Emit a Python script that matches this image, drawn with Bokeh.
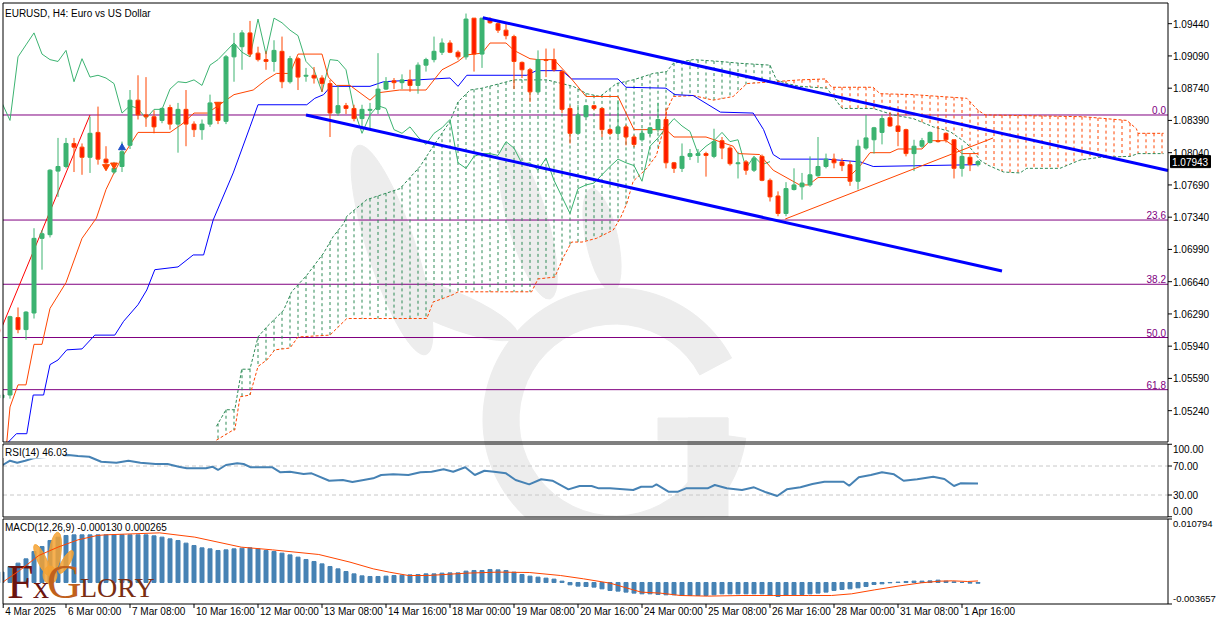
import numpy as np
from bokeh.plotting import figure
from bokeh.models import Range1d
from bokeh.embed import file_html
from bokeh.resources import INLINE
from bokeh.core.properties import value

# ---------------- data (EURUSD H4, bar index 0 = 4 Mar 16:00) ----------------
opens = [1.0538, 1.0541, 1.0625, 1.0612, 1.0630, 1.0711, 1.0715, 1.0784, 1.0789, 1.0814,
         1.0810, 1.0799, 1.0826, 1.0797, 1.0783, 1.0789, 1.0812, 1.0861, 1.0845, 1.0843,
         1.0839, 1.0853, 1.0835, 1.0851, 1.0835, 1.0829, 1.0835, 1.0856, 1.0838, 1.0908,
         1.0919, 1.0934, 1.0912, 1.0905, 1.0903, 1.0914, 1.0881, 1.0906, 1.0887, 1.0888,
         1.0885, 1.0879, 1.0847, 1.0855, 1.0852, 1.0841, 1.0850, 1.0851, 1.0873, 1.0882,
         1.0880, 1.0883, 1.0877, 1.0899, 1.0905, 1.0913, 1.0923, 1.0913, 1.0908, 1.0950,
         1.0911, 1.0949, 1.0944, 1.0937, 1.0930, 1.0902, 1.0894, 1.0870, 1.0905, 1.0905,
         1.0892, 1.0852, 1.0825, 1.0843, 1.0855, 1.0852, 1.0829, 1.0825, 1.0832, 1.0821,
         1.0818, 1.0825, 1.0829, 1.0840, 1.0793, 1.0787, 1.0800, 1.0801, 1.0803, 1.0800,
         1.0817, 1.0809, 1.0792, 1.0794, 1.0785, 1.0800, 1.0774, 1.0757, 1.0738, 1.0764,
         1.0767, 1.0769, 1.0779, 1.0789, 1.0797, 1.0794, 1.0791, 1.0773, 1.0809, 1.0818,
         1.0826, 1.0842, 1.0833, 1.0829, 1.0803, 1.0811, 1.0815, 1.0817, 1.0825, 1.0818,
         1.0787, 1.0799, 1.0791]
highs = [1.0545, 1.0627, 1.0636, 1.0632, 1.0722, 1.0720, 1.0786, 1.0820, 1.0820, 1.0820,
         1.0814, 1.0843, 1.0854, 1.0811, 1.0794, 1.0816, 1.0872, 1.0888, 1.0886, 1.0850,
         1.0853, 1.0856, 1.0858, 1.0872, 1.0838, 1.0840, 1.0867, 1.0859, 1.0910, 1.0934,
         1.0937, 1.0947, 1.0919, 1.0914, 1.0926, 1.0930, 1.0909, 1.0908, 1.0896, 1.0897,
         1.0888, 1.0883, 1.0877, 1.0858, 1.0856, 1.0856, 1.0858, 1.0912, 1.0886, 1.0885,
         1.0889, 1.0894, 1.0902, 1.0907, 1.0930, 1.0928, 1.0926, 1.0915, 1.0955, 1.0950,
         1.0950, 1.0951, 1.0947, 1.0944, 1.0932, 1.0903, 1.0896, 1.0915, 1.0917, 1.0917,
         1.0894, 1.0855, 1.0856, 1.0855, 1.0856, 1.0853, 1.0831, 1.0861, 1.0834, 1.0823,
         1.0830, 1.0832, 1.0858, 1.0852, 1.0794, 1.0814, 1.0808, 1.0808, 1.0805, 1.0830,
         1.0821, 1.0811, 1.0805, 1.0796, 1.0800, 1.0802, 1.0776, 1.0762, 1.0772, 1.0787,
         1.0782, 1.0800, 1.0821, 1.0803, 1.0803, 1.0798, 1.0795, 1.0818, 1.0845, 1.0832,
         1.0845, 1.0847, 1.0847, 1.0830, 1.0818, 1.0820, 1.0827, 1.0833, 1.0826, 1.0818,
         1.0812, 1.0803, 1.0796]
lows = [1.0535, 1.0537, 1.0608, 1.0601, 1.0624, 1.0677, 1.0712, 1.0756, 1.0787, 1.0783,
        1.0780, 1.0782, 1.0791, 1.0785, 1.0781, 1.0783, 1.0808, 1.0840, 1.0832, 1.0825,
        1.0836, 1.0829, 1.0804, 1.0811, 1.0821, 1.0818, 1.0832, 1.0835, 1.0835, 1.0881,
        1.0894, 1.0908, 1.0903, 1.0894, 1.0892, 1.0874, 1.0879, 1.0872, 1.0881, 1.0879,
        1.0870, 1.0821, 1.0844, 1.0846, 1.0838, 1.0829, 1.0829, 1.0846, 1.0872, 1.0873,
        1.0873, 1.0870, 1.0868, 1.0892, 1.0902, 1.0910, 1.0912, 1.0905, 1.0905, 1.0892,
        1.0896, 1.0944, 1.0934, 1.0927, 1.0873, 1.0885, 1.0859, 1.0869, 1.0886, 1.0892,
        1.0847, 1.0814, 1.0823, 1.0842, 1.0850, 1.0821, 1.0823, 1.0821, 1.0812, 1.0810,
        1.0816, 1.0822, 1.0826, 1.0787, 1.0782, 1.0783, 1.0796, 1.0793, 1.0778, 1.0798,
        1.0797, 1.0790, 1.0776, 1.0780, 1.0783, 1.0773, 1.0751, 1.0735, 1.0735, 1.0763,
        1.0753, 1.0767, 1.0778, 1.0787, 1.0787, 1.0784, 1.0768, 1.0764, 1.0807, 1.0803,
        1.0813, 1.0832, 1.0811, 1.0800, 1.0784, 1.0809, 1.0814, 1.0815, 1.0815, 1.0776,
        1.0778, 1.0784, 1.0789]
closes = [1.0541, 1.0626, 1.0612, 1.0631, 1.0711, 1.0716, 1.0785, 1.0789, 1.0814, 1.0810,
          1.0799, 1.0825, 1.0797, 1.0793, 1.0787, 1.0805, 1.0861, 1.0845, 1.0843, 1.0832,
          1.0852, 1.0835, 1.0851, 1.0835, 1.0829, 1.0835, 1.0858, 1.0839, 1.0908, 1.0921,
          1.0934, 1.0911, 1.0905, 1.0903, 1.0915, 1.0881, 1.0906, 1.0886, 1.0888, 1.0885,
          1.0879, 1.0847, 1.0855, 1.0852, 1.0841, 1.0851, 1.0851, 1.0873, 1.0881, 1.0880,
          1.0883, 1.0877, 1.0899, 1.0905, 1.0914, 1.0923, 1.0913, 1.0908, 1.0949, 1.0911,
          1.0950, 1.0945, 1.0937, 1.0931, 1.0903, 1.0894, 1.0870, 1.0905, 1.0904, 1.0894,
          1.0851, 1.0825, 1.0845, 1.0855, 1.0852, 1.0829, 1.0825, 1.0832, 1.0821, 1.0813,
          1.0825, 1.0831, 1.0840, 1.0793, 1.0787, 1.0800, 1.0803, 1.0803, 1.0801, 1.0816,
          1.0809, 1.0792, 1.0793, 1.0785, 1.0798, 1.0774, 1.0756, 1.0738, 1.0765, 1.0769,
          1.0771, 1.0780, 1.0789, 1.0797, 1.0793, 1.0790, 1.0773, 1.0811, 1.0820, 1.0831,
          1.0841, 1.0833, 1.0827, 1.0803, 1.0811, 1.0817, 1.0826, 1.0816, 1.0818, 1.0787,
          1.0800, 1.0791, 1.07943]

# Ichimoku lines (bar index, price)
tenkan_x = [0.6, 1, 2, 3, 4, 5, 6, 8, 10, 11.8, 13, 14, 15, 17, 21, 22.5, 24, 25.7, 28, 29,
            31.4, 33, 34.3, 36, 37, 40, 40.8, 41.8, 43.5, 46, 47, 49.7, 53, 55, 57, 58, 60, 61,
            63, 64, 66, 67, 69, 71, 73, 77, 79, 83, 84, 88, 91.4, 92, 94.7, 96.4, 99.7, 100.8,
            102, 105.8, 107.2, 108.5, 111, 112, 115, 116, 118, 119, 120, 122]
tenkan_v = [1.0490, 1.0528, 1.0552, 1.0552, 1.0596, 1.0596, 1.0635, 1.0663, 1.0711, 1.0733,
            1.0764, 1.0782, 1.0799, 1.0826, 1.0826, 1.0835, 1.0847, 1.0847, 1.0861, 1.0867,
            1.0872, 1.0883, 1.0890, 1.0890, 1.0911, 1.0911, 1.0886, 1.0877, 1.0877, 1.0861,
            1.0869, 1.0872, 1.0872, 1.0894, 1.0903, 1.0910, 1.0912, 1.0923, 1.0923, 1.0915,
            1.0906, 1.0905, 1.0905, 1.0886, 1.0865, 1.0865, 1.0829, 1.0829, 1.0821, 1.0821,
            1.0811, 1.0803, 1.0802, 1.0785, 1.0769, 1.0769, 1.0777, 1.0777, 1.0789, 1.0804,
            1.0804, 1.0808, 1.0808, 1.0817, 1.0817, 1.0811, 1.0803, 1.0803]
kijun_x = [0.8, 1.8, 3.1, 3.9, 5.2, 6, 7, 8.1, 10, 11.6, 14.1, 15.2, 17, 18.1, 19.1, 22, 23.9,
           25.2, 26.4, 28.9, 31, 32, 38.1, 39.1, 40.2, 41.1, 46, 47.7, 56, 57, 58.1, 65.6, 66.8,
           70, 71.2, 77, 78, 83, 84.1, 86.4, 89.8, 93.9, 95.2, 96.4, 97.3, 103.1, 107.3, 108.9, 122]
kijun_v = [1.0490, 1.0499, 1.0499, 1.0541, 1.0541, 1.0574, 1.0579, 1.0590, 1.0591, 1.0606,
           1.0606, 1.0621, 1.0639, 1.0655, 1.0677, 1.0680, 1.0693, 1.0693, 1.0731, 1.0782,
           1.0832, 1.0856, 1.0856, 1.0863, 1.0867, 1.0876, 1.0876, 1.0881, 1.0885, 1.0876,
           1.0888, 1.0888, 1.0893, 1.0893, 1.0884, 1.0884, 1.0875, 1.0874, 1.0867, 1.0866,
           1.0848, 1.0847, 1.0829, 1.0802, 1.0797, 1.0797, 1.0794, 1.0789, 1.0791]
spanA_x = [26.8, 28.0, 29.1, 29.96, 31.0, 32.0, 33.1, 35.2, 36.2, 38.1, 40.2, 41.4, 42.7, 43.1,
           45.6, 49.75, 52.25, 53.9, 56.0, 57.0, 58.5, 60.0, 62.25, 64.0, 68.1, 71.4, 73.1,
           74.75, 76.8, 78.9, 81.4, 83.1, 83.9, 86.4, 89.75, 92.25, 96.0, 96.8, 98.1, 99.75,
           103.1, 103.9, 105.0, 108.9, 111.4, 113.9, 116.4, 118.5, 120.6, 122.25, 123.1, 125.2,
           127.25, 128.1, 132.25, 134.75, 137.25, 141.0, 142.0, 145.2]
spanA_v = [1.0507, 1.0525, 1.0525, 1.0569, 1.0569, 1.0604, 1.0615, 1.0633, 1.0653, 1.0671,
           1.0695, 1.0713, 1.0727, 1.0735, 1.0753, 1.0765, 1.0789, 1.0811, 1.0838, 1.0859,
           1.0872, 1.0874, 1.0879, 1.0883, 1.0883, 1.0876, 1.0868, 1.0865, 1.0879, 1.0883,
           1.0890, 1.0892, 1.0901, 1.0905, 1.0903, 1.0901, 1.0899, 1.0883, 1.0879, 1.0876,
           1.0874, 1.0865, 1.0852, 1.0852, 1.0845, 1.0841, 1.0832, 1.0827, 1.0814, 1.0796,
           1.0791, 1.0783, 1.0782, 1.0787, 1.0787, 1.0796, 1.0799, 1.0800, 1.0803, 1.0803]
spanB_x = [26.8, 28.9, 29.1, 29.75, 31.0, 32.0, 33.1, 34.1, 36.0, 37.0, 41.0, 43.1, 53.1, 53.9,
           55.2, 56.4, 57.0, 66.2, 67.0, 69.1, 70.2, 71.2, 72.5, 74.3, 76.4, 77.3, 78.1, 78.9,
           80.6, 81.8, 82.7, 83.1, 83.9, 86.4, 88.9, 91.4, 92.25, 93.1, 99.75, 102.9, 103.7,
           108.9, 109.75, 113.9, 120.6, 122.0, 122.9, 135.2, 140.6, 141.8, 142.0, 145.2]
spanB_v = [1.0492, 1.0503, 1.0503, 1.0539, 1.0541, 1.0572, 1.0579, 1.0590, 1.0592, 1.0604,
           1.0606, 1.0624, 1.0624, 1.0642, 1.0646, 1.0650, 1.0653, 1.0653, 1.0667, 1.0669,
           1.0691, 1.0707, 1.0707, 1.0711, 1.0720, 1.0733, 1.0749, 1.0773, 1.0787, 1.0801,
           1.0830, 1.0850, 1.0865, 1.0866, 1.0861, 1.0865, 1.0872, 1.0879, 1.0883, 1.0884,
           1.0875, 1.0875, 1.0868, 1.0867, 1.0863, 1.0850, 1.0845, 1.0843, 1.0839, 1.0830,
           1.0825, 1.0825]
CHIKOU_SHIFT = 26

# Drawn objects
fib_levels = [1.08449, 1.07309, 1.06612, 1.06034, 1.05468]
fib_labels = ["0.0", "23.6", "38.2", "50.0", "61.8"]
fib_anchor_x = [-12.1, 11.0]
fib_anchor_p = [1.03619, 1.08449]
chan_upper_x = [60.1, 145.75]
chan_upper_p = [1.09505, 1.07847]
chan_lower_x = [38.0, 125.0]
chan_lower_p = [1.08449, 1.06756]
trend_x = [97.9, 123.9]
trend_p = [1.0732, 1.0820]
frac_dn_x = [13, 14, 27]
frac_dn_p = [1.07888, 1.07906, 1.08565]
frac_up_x = [15]
frac_up_p = [1.08094]
last_price = 1.07943

# RSI(14) readings
rsi_x = [0.1, 1.0, 1.9, 2.9, 3.9, 8.3, 9.5, 10.9, 12.4, 14.3, 15.8, 17.3, 19.2, 20.7, 22.1, 23.1,
         25.5, 26.3, 27.0, 28.0, 29.4, 30.2, 31.1, 33.8, 34.8, 36.0, 37.7, 38.7, 40.9, 42.6, 43.8,
         45.2, 46.4, 47.4, 48.9, 50.8, 52.3, 53.7, 55.2, 56.4, 57.9, 59.1, 60.3, 61.5, 63.0, 64.2,
         65.9, 67.4, 68.8, 70.8, 72.2, 73.7, 74.6, 76.0, 78.9, 79.9, 81.3, 81.8, 83.3, 84.5, 85.5,
         88.2, 89.1, 90.6, 92.5, 94.0, 95.5, 96.9, 98.1, 99.8, 101.3, 102.8, 105.2, 105.9, 107.1,
         108.6, 110.0, 111.5, 112.7, 114.4, 116.4, 117.8, 119.0, 119.8, 122.0]
rsi_v = [71.4, 77.3, 74.5, 77.3, 80.6, 85.2, 83.8, 82.8, 75.9, 74.5, 77.3, 74.5, 72.8, 72.8, 69.0,
         66.8, 66.8, 69.0, 64.5, 71.4, 73.7, 72.8, 68.2, 68.2, 61.3, 62.1, 59.0, 59.9, 49.7, 50.7,
         47.9, 50.7, 53.0, 57.6, 58.5, 57.6, 61.3, 62.1, 65.4, 62.1, 68.2, 57.6, 63.5, 62.1, 59.9,
         50.7, 44.7, 51.7, 49.7, 37.8, 42.4, 42.4, 39.2, 39.2, 36.9, 41.4, 41.4, 44.7, 34.6, 34.6,
         39.2, 39.2, 43.8, 39.2, 36.9, 40.6, 33.7, 28.6, 37.8, 40.6, 45.2, 48.3, 48.3, 42.8, 54.4,
         57.6, 61.3, 58.5, 49.7, 51.7, 55.3, 52.1, 42.4, 46.1, 46.03]
rsi_levels = [30, 70]

# MACD(12,26,9) histogram per bar and signal line readings
macd_hist = [0.00176, 0.00272, 0.00329, 0.00402, 0.00527, 0.00612, 0.00714, 0.00771, 0.00799,
             0.00810, 0.00810, 0.00810, 0.00810, 0.00810, 0.00810, 0.00810, 0.00810, 0.00810, 0.00810,
             0.00793, 0.00771, 0.00742, 0.00714, 0.00669, 0.00629, 0.00589, 0.00572, 0.00544, 0.00555,
             0.00572, 0.00584, 0.00589, 0.00572, 0.00544, 0.00527, 0.00499, 0.00470, 0.00431, 0.00391,
             0.00357, 0.00317, 0.00272, 0.00232, 0.00187, 0.00147, 0.00113, 0.00102, 0.00102, 0.00108,
             0.00119, 0.00125, 0.00130, 0.00136, 0.00147, 0.00147, 0.00159, 0.00164, 0.00164, 0.00193,
             0.00204, 0.00204, 0.00221, 0.00215, 0.00204, 0.00176, 0.00136, 0.00108, 0.00091, 0.00074,
             0.00057, 0.00023, -0.00040, -0.00062, -0.00068, -0.00079, -0.00108, -0.00136, -0.00147,
             -0.00164, -0.00181, -0.00193, -0.00193, -0.00204, -0.00210, -0.00210, -0.00221, -0.00221,
             -0.00221, -0.00221, -0.00210, -0.00193, -0.00193, -0.00193, -0.00193, -0.00193, -0.00193,
             -0.00221, -0.00238, -0.00221, -0.00210, -0.00204, -0.00193, -0.00181, -0.00164, -0.00136,
             -0.00119, -0.00108, -0.00091, -0.00068, -0.00034, -0.00023, -0.00006, 0.00006, 0.00017,
             0.00023, 0.00023, 0.00028, 0.00040, 0.00023, 0.00011, 0.00000, -0.00011, -0.00013]
signal_x = [0.1, 2.2, 4.6, 7.0, 9.5, 11.9, 12.9, 19.7, 24.1, 29.9, 33.8, 39.6, 43.5, 46.4, 48.4,
            50.8, 53.3, 58.1, 62.0, 65.9, 69.8, 72.7, 76.0, 79.9, 82.3, 84.8, 88.2, 92.5, 96.4,
            100.8, 103.7, 106.2, 109.1, 112.0, 114.9, 117.3, 118.8, 120.7, 122.0]
signal_v = [0.00006, 0.00204, 0.00459, 0.00601, 0.00725, 0.00799, 0.00810, 0.00844, 0.00771,
            0.00601, 0.00555, 0.00476, 0.00346, 0.00232, 0.00176, 0.00119, 0.00119, 0.00159,
            0.00176, 0.00170, 0.00119, 0.00062, -0.00011, -0.00164, -0.00181, -0.00221, -0.00232,
            -0.00221, -0.00221, -0.00221, -0.00221, -0.00193, -0.00125, -0.00062, -0.00006,
            0.00023, 0.00028, 0.00017, 0.000265]

# Axis labels
price_ticks = [1.05240, 1.05590, 1.05940, 1.06290, 1.06640, 1.06990, 1.07340,
               1.07690, 1.08040, 1.08390, 1.08740, 1.09090, 1.09440]
rsi_ticks = [0, 30, 70, 100]
rsi_tick_labels = ["0.00", "30.00", "70.00", "100.00"]
rsi_label_pos = [7.9, 30, 70, 93.4]
macd_ticks = [-0.003657, 0.010794]
macd_tick_labels = ["-0.003657", "0.010794"]
macd_label_pos = [-0.002807, 0.009944]
time_pos = [0.15, 8, 16, 24, 32, 40, 48, 56, 64, 72, 80, 88, 96, 104, 112, 120]
time_labels = ["4 Mar 2025", "6 Mar 00:00", "7 Mar 08:00", "10 Mar 16:00", "12 Mar 00:00",
               "13 Mar 08:00", "14 Mar 16:00", "18 Mar 00:00", "19 Mar 08:00", "20 Mar 16:00",
               "24 Mar 00:00", "25 Mar 08:00", "26 Mar 16:00", "28 Mar 00:00", "31 Mar 08:00",
               "1 Apr 16:00"]

# ---------------- layout: one full-canvas frame, panes drawn by hand ----------------
W, H = 1219, 622
OFFX, OFFY = 0.5, 0.5        # canvas px = reference px - OFF (crisp 1px lines)
PX0, PX1 = 3, 1168           # pane left / right (reference px)
MAIN = (3, 442)
RSIP = (444, 517)
MACDP = (519, 604)
YPP = 0.00010853             # price per px in the main pane
Y0P = 1.09697                # price at reference y = 0
RSI_PX = 0.725               # px per RSI point, RSI 0 at y=516.75
MACD_PX = 0.000170012        # MACD per px, 0.010794 at y=519


def rx(px):
    return (px - 2) / 8.0


def py(y):
    return Y0P - YPP * y


def rsi_y(y):
    return (516.75 - y) / RSI_PX


def macd_y(y):
    return macd_ticks[1] - (y - 519) * MACD_PX


FONT = "Liberation Sans"
GREEN, ORANGE = "#2e8b57", "#ff4500"
p = figure(width=W, height=H, x_range=Range1d(rx(OFFX), rx(W + OFFX)),
           y_range=Range1d(py(H + OFFY), py(OFFY)),
           output_backend="svg", toolbar_location=None,
           x_axis_location=None, y_axis_location=None,
           min_border=0, min_border_left=0, min_border_right=0, min_border_top=0,
           min_border_bottom=0, outline_line_color=None,
           background_fill_color="white", border_fill_color="white")
p.extra_y_ranges = {
    "rsi": Range1d(rsi_y(H + OFFY), rsi_y(OFFY)),
    "macd": Range1d(macd_y(H + OFFY), macd_y(OFFY)),
}
p.grid.visible = False

# ---------------- watermark ----------------
WM = "#ededed"
p.ellipse(x=[rx(392), rx(448), rx(528), rx(602)], y=[py(250), py(308), py(222), py(240)],
          width=[48, 150, 40, 32], height=[220, 36, 160, 105],
          angle=[np.radians(18), np.radians(-22), np.radians(16), np.radians(12)],
          width_units="screen", height_units="screen", color=WM)
p.annular_wedge(x=[rx(615)], y=[py(420)], inner_radius=96, outer_radius=132,
                inner_radius_units="screen", outer_radius_units="screen",
                start_angle=np.radians(28), end_angle=np.radians(352), color=WM)
p.quad(left=[rx(688), rx(658)], right=[rx(728), rx(728)], top=[py(418), py(418)],
       bottom=[py(517), py(440)], color=WM)
p.quad(left=[rx(0)], right=[rx(1221)], top=[py(518)], bottom=[py(630)], color="white")

# ---------------- main pane ----------------
n_f = len(fib_levels)
p.segment(x0=[rx(PX0)] * n_f, x1=[rx(PX1)] * n_f, y0=fib_levels, y1=fib_levels,
          line_color="#800080", line_width=1)

# Kumo hatch: dashed vertical strokes (3px on, 3px off) between span A and span B
hx = np.arange(27, 146)
ha = np.interp(hx, spanA_x, spanA_v)
hb = np.interp(hx, spanB_x, spanB_v)
dash = {True: ([], [], []), False: ([], [], [])}
for xi, a, b in zip(hx, ha, hb):
    top, bot = max(a, b), min(a, b)
    yy = top
    while yy > bot:
        y2 = max(yy - 3 * YPP, bot)
        dash[bool(a >= b)][0].append(xi)
        dash[bool(a >= b)][1].append(yy)
        dash[bool(a >= b)][2].append(y2)
        yy -= 6 * YPP
for key, col in ((True, GREEN), (False, ORANGE)):
    xs, y0s, y1s = dash[key]
    p.segment(x0=xs, y0=y0s, x1=xs, y1=y1s, line_color=col, line_width=1)
p.line(spanA_x, spanA_v, line_color=GREEN, line_dash="3 2", line_width=1)
p.line(spanB_x, spanB_v, line_color=ORANGE, line_dash="3 2", line_width=1)

cl = np.array(closes)
p.line(np.arange(len(cl) - CHIKOU_SHIFT), cl[CHIKOU_SHIFT:], line_color="#3cb371", line_width=1)
p.line(kijun_x, kijun_v, line_color="#0000ff", line_width=1)
p.line(tenkan_x, tenkan_v, line_color=ORANGE, line_width=1)
p.line(fib_anchor_x, fib_anchor_p, line_color="#ff0000", line_width=1)

o = np.array(opens); h = np.array(highs); l = np.array(lows); c = cl
idx = np.arange(len(o))
up = c >= o
dn = ~up
p.segment(x0=idx[up], y0=h[up], x1=idx[up], y1=l[up], line_color="#3cb371", line_width=1)
p.segment(x0=idx[dn], y0=h[dn], x1=idx[dn], y1=l[dn], line_color=ORANGE, line_width=1)
p.vbar(x=idx[up], width=0.5, top=c[up], bottom=o[up],
       fill_color="#3cb371", line_color="#3cb371", line_width=1)
p.vbar(x=idx[dn], width=0.5, top=o[dn], bottom=c[dn],
       fill_color="#ff1a00", line_color=ORANGE, line_width=1)

p.scatter(frac_dn_x, frac_dn_p, marker="inverted_triangle", size=7, color=ORANGE)
p.scatter(frac_up_x, frac_up_p, marker="triangle", size=7, color="#1e50c8")

p.line(chan_upper_x, chan_upper_p, line_color="#0000ff", line_width=3)
p.line(chan_lower_x, chan_lower_p, line_color="#0000ff", line_width=3)
p.line(trend_x, trend_p, line_color=ORANGE, line_width=1)

p.text(x=[rx(1166)] * n_f, y=fib_levels, text=fib_labels, text_align="right",
       text_baseline="bottom", text_color="#800080", text_font=value(FONT),
       text_font_size="10px", y_offset=-1)

# ---------------- RSI pane ----------------
p.segment(x0=[rx(PX0)] * 2, x1=[rx(PX1)] * 2, y0=rsi_levels, y1=rsi_levels,
          y_range_name="rsi", line_color="#c8c8c8", line_dash="4 3", line_width=1)
p.line(rsi_x, rsi_v, y_range_name="rsi", line_color="#4682b4", line_width=2)

# ---------------- MACD pane ----------------
p.vbar(x=idx, width=0.5, top=macd_hist, bottom=0, y_range_name="macd", color="#4682b4")

# FxGlory logo
p.ellipse(x=[rx(42), rx(55), rx(66), rx(50)], y=[py(560), py(553), py(562), py(575)],
          width=[9, 12, 8, 14], height=[34, 42, 26, 18],
          angle=[np.radians(25), np.radians(-8), np.radians(-30), 0.0],
          width_units="screen", height_units="screen", color="#f4a233", alpha=0.85)
p.text(x=[rx(7)], y=[py(555)], text=["F"], text_font=value("Liberation Serif"),
       text_font_size="48px", text_baseline="top", text_color="#6b1410")
p.text(x=[rx(33)], y=[py(569)], text=["x"], text_font=value("Liberation Serif"),
       text_font_size="32px", text_baseline="top", text_color="#6b1410")
p.text(x=[rx(47)], y=[py(555)], text=["G"], text_font=value("Liberation Serif"),
       text_font_size="48px", text_baseline="top", text_color="#c0601c")
p.text(x=[rx(80)], y=[py(572)], text=["LORY"], text_font=value("Liberation Serif"),
       text_font_size="28px", text_baseline="top", text_color="#7a2e12")

p.line(signal_x, signal_v, y_range_name="macd", line_color=ORANGE, line_width=1)

# ---------------- masks and pane borders ----------------
p.quad(left=[rx(-5)], right=[rx(2.5)], top=[py(-5)], bottom=[py(630)], color="white")
p.quad(left=[rx(0)], right=[rx(1221)], top=[py(604.5)], bottom=[py(630)], color="white")
p.quad(left=[rx(PX0)] * 3, right=[rx(PX1)] * 3,
       top=[py(MAIN[0]), py(RSIP[0]), py(MACDP[0])],
       bottom=[py(MAIN[1]), py(RSIP[1]), py(MACDP[1])],
       fill_color=None, line_color="black", line_width=1)

# ---------------- titles ----------------
p.text(x=[rx(5)], y=[py(8)], text=["EURUSD, H4:  Euro vs US Dollar"], text_baseline="top",
       text_font=value(FONT), text_font_size="10px", text_color="black")
p.quad(left=[rx(4)], right=[rx(64)], top=[py(446)], bottom=[py(458)], color="white")
p.text(x=[rx(5)], y=[py(447)], text=["RSI(14) 46.03"], text_baseline="top",
       text_font=value(FONT), text_font_size="10px", text_color="black")
p.text(x=[rx(5)], y=[py(522)], text=["MACD(12,26,9) -0.000130 0.000265"], text_baseline="top",
       text_font=value(FONT), text_font_size="10px", text_color="black")

# ---------------- right price axis ----------------
TK0, TK1, TLX = rx(PX1), rx(PX1 + 4), rx(PX1 + 5)
AXF = "10px"
n_p = len(price_ticks)
p.segment(x0=[TK0] * n_p, x1=[TK1] * n_p, y0=price_ticks, y1=price_ticks, line_color="black")
p.text(x=[TLX] * n_p, y=price_ticks, text=["%.5f" % v for v in price_ticks],
       text_baseline="middle", text_font=value(FONT), text_font_size=AXF,
       text_color="black")
p.segment(x0=[TK0] * 4, x1=[TK1] * 4, y0=rsi_ticks, y1=rsi_ticks, y_range_name="rsi",
          line_color="black")
p.text(x=[TLX] * 4, y=rsi_label_pos, text=rsi_tick_labels, y_range_name="rsi",
       text_baseline="middle", text_font=value(FONT), text_font_size=AXF,
       text_color="black")
p.segment(x0=[TK0] * 2, x1=[TK1] * 2, y0=macd_ticks, y1=macd_ticks, y_range_name="macd",
          line_color="black")
p.text(x=[TLX] * 2, y=macd_label_pos, text=macd_tick_labels, y_range_name="macd",
       text_baseline="middle", text_font=value(FONT), text_font_size="9.5px",
       text_color="black")

# current price box
p.rect(x=[rx(1190.5)], y=[last_price], width=40, height=12, width_units="screen",
       height_units="screen", fill_color="black", line_color="black")
p.text(x=[rx(1172)], y=[last_price], text=["%.5f" % last_price], text_baseline="middle",
       text_font=value(FONT), text_font_size=AXF, text_color="white")

# ---------------- time axis ----------------
n_t = len(time_pos)
p.segment(x0=time_pos, x1=time_pos, y0=[py(MACDP[1])] * n_t, y1=[py(MACDP[1] + 4)] * n_t,
          line_color="black")
p.text(x=time_pos, y=[py(606)] * n_t, text=time_labels, x_offset=2, text_baseline="top",
       text_font=value(FONT), text_font_size="10px", text_color="black")

open("out.html", "w").write(file_html(p, INLINE))
